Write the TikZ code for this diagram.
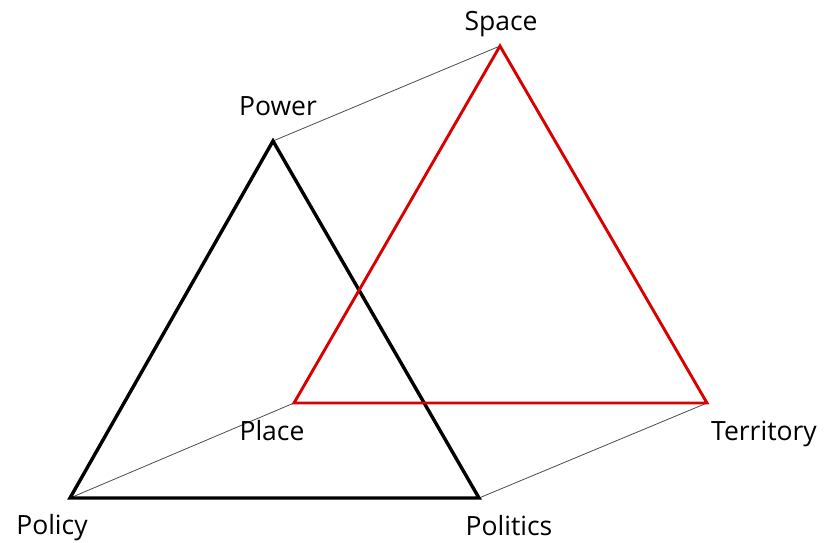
\documentclass[tikz,border=0pt]{standalone}
\usepackage{fontspec}
\setmainfont{Open Sans}
\begin{document}
\begin{tikzpicture}[x=1pt,y=-1pt,
  lbl/.style={anchor=base,inner sep=0pt,font=\fontsize{26.5}{30}\selectfont},
  blackedge/.style={draw=black,line width=3.4pt,line join=miter},
  rededge/.style={draw=red!85!black,line width=2.9pt,line join=miter},
  thinlink/.style={draw=black!70,line width=0.8pt}]
\useasboundingbox (0,0) rectangle (824,542);
% vertices
\coordinate (pow) at (273,141);
\coordinate (pol) at (70,498);
\coordinate (pts) at (479,498);
\coordinate (spa) at (500,46);
\coordinate (pla) at (294,403);
\coordinate (ter) at (707,403);
% thin links
\draw[thinlink] (pow) -- (spa);
\draw[thinlink] (pol) -- (pla);
\draw[thinlink] (pts) -- (ter);
% triangles
\draw[blackedge] (pow) -- (pol) -- (pts) -- cycle;
\draw[rededge] (spa) -- (pla) -- (ter) -- cycle;
% labels
\node[lbl] (lspa) at (501,30) {Space};
\node[lbl] (lpow) at (278,115) {Power};
\node[lbl] (lpla) at (272,440) {Place};
\node[lbl] (lter) at (764,440) {Territory};
\node[lbl] (lpol) at (52,534) {Policy};
\node[lbl] (lpts) at (509,535) {Politics};
\end{tikzpicture}
\end{document}
